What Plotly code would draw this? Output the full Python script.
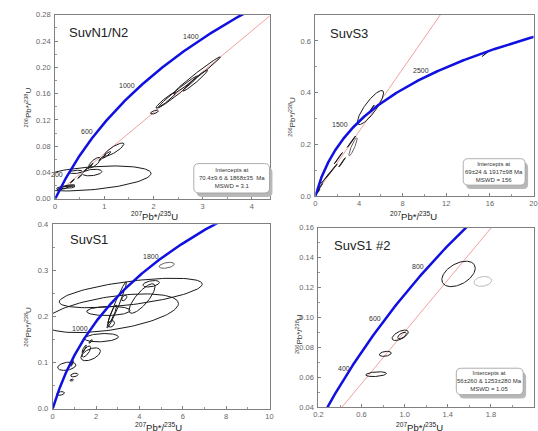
import numpy as np
import plotly.graph_objects as go

W, H = 538, 431

# ---------------- data ----------------
L238 = 1.55125e-10  # decay constants (per year)
L235 = 9.8485e-10

panel_titles = ["SuvN1/N2", "SuvS3", "SuvS1", "SuvS1 #2"]

# intercept ages (Ma) of the discordia lines (None = no line)
intercepts = [(70.4, 1868), (69, 1917), None, (56, 1253)]
box_texts = [
    "Intercepts at<br>70.4±9.6 & 1868±35  Ma<br>MSWD = 3.1",
    "Intercepts at<br>69±24 & 1917±98 Ma<br>MSWD = 156",
    None,
    "Intercepts at<br>56±260 & 1253±280 Ma<br>MSWD = 1.05",
]

# concordia age labels: (text, x, y)
p1_labels = [("1400", 2.76, 0.247), ("1000", 1.46, 0.172), ("600", 0.64, 0.103), ("200", 0.04, 0.037)]
p2_labels = [("2500", 9.68, 0.485), ("1500", 2.28, 0.277)]
p3_labels = [("1800", 4.55, 0.330), ("1000", 1.27, 0.173)]
p4_labels = [("800", 1.123, 0.134), ("600", 0.72, 0.099), ("400", 0.44, 0.066)]

# error ellipses: (x centre, y centre, x half-width, y half-height, rho, shade)
p1_ell = [
    (0.70, 0.031, 1.25, 0.019, 0.40, 0),
    (0.75, 0.040, 0.20, 0.005, 0.30, 0),
    (0.42, 0.041, 0.13, 0.0025, 0.30, 0),
    (0.80, 0.055, 0.12, 0.008, 0.75, 0),
    (1.20, 0.075, 0.20, 0.010, 0.85, 0),
    (1.05, 0.067, 0.08, 0.005, 0.90, 0),
    (2.02, 0.132, 0.08, 0.003, 0.60, 0),
    (2.50, 0.163, 0.40, 0.024, 0.985, 0),
    (2.88, 0.188, 0.48, 0.028, 0.99, 0),
    (2.85, 0.180, 0.25, 0.016, 0.97, 0),
    (2.25, 0.150, 0.20, 0.012, 0.95, 0),
    (0.15, 0.017, 0.12, 0.0025, 0.50, 0),
    (0.25, 0.018, 0.15, 0.002, 0.30, 0),
    (0.10, 0.015, 0.06, 0.002, 0.60, 0),
    (0.30, 0.020, 0.10, 0.0015, 0.50, 0),
    (0.35, 0.027, 0.04, 0.003, 0.95, 0),
    (0.50, 0.034, 0.04, 0.003, 0.95, 0),
    (0.62, 0.044, 0.04, 0.003, 0.95, 0),
    (0.72, 0.050, 0.05, 0.004, 0.95, 0),
    (0.95, 0.062, 0.06, 0.004, 0.95, 0),
]
p2_ell = [
    (5.05, 0.342, 1.20, 0.066, 0.85, 0),
    (3.45, 0.190, 0.38, 0.035, 0.90, 1),
    (3.30, 0.210, 0.38, 0.022, 0.995, 0),
    (2.10, 0.146, 0.38, 0.022, 0.995, 0),
    (1.50, 0.098, 0.50, 0.025, 0.995, 0),
    (0.90, 0.067, 0.38, 0.019, 0.995, 0),
    (0.35, 0.030, 0.30, 0.018, 0.99, 0),
    (2.45, 0.130, 0.30, 0.018, 0.99, 0),
    (15.6, 0.550, 0.30, 0.010, 0.99, 0),
    (5.20, 0.340, 0.20, 0.012, 0.99, 0),
    (0.15, 0.012, 0.10, 0.006, 0.90, 0),
    (0.30, 0.020, 0.12, 0.008, 0.90, 0),
]
p3_ell = [
    (3.60, 0.251, 3.30, 0.032, 0.60, 0),
    (2.70, 0.207, 3.10, 0.042, 0.50, 0),
    (2.57, 0.212, 1.00, 0.010, 0.10, 0),
    (4.12, 0.239, 0.60, 0.032, 0.80, 0),
    (4.54, 0.271, 0.38, 0.007, 0.40, 0),
    (5.26, 0.311, 0.35, 0.0065, 0.40, 1),
    (2.25, 0.154, 0.78, 0.009, 0.20, 0),
    (1.75, 0.118, 0.45, 0.014, 0.50, 0),
    (1.55, 0.124, 0.20, 0.012, 0.70, 0),
    (0.65, 0.092, 0.42, 0.009, 0.30, 0),
    (1.00, 0.073, 0.17, 0.004, 0.30, 0),
    (0.88, 0.062, 0.08, 0.002, 0.30, 0),
    (0.36, 0.033, 0.18, 0.004, 0.30, 0),
    (2.95, 0.225, 0.45, 0.050, 0.97, 0),
    (2.75, 0.205, 0.20, 0.020, 0.90, 0),
    (2.70, 0.184, 0.15, 0.007, 0.30, 0),
    (1.75, 0.146, 0.08, 0.004, 0.80, 0),
    (0.90, 0.098, 0.06, 0.006, 0.90, 0),
    (1.45, 0.130, 0.10, 0.008, 0.90, 0),
    (3.30, 0.240, 0.12, 0.006, 0.50, 0),
]
p4_ell = [
    (1.500, 0.129, 0.155, 0.0085, 0.45, 0),
    (1.725, 0.124, 0.082, 0.0033, 0.20, 2),
    (0.958, 0.088, 0.075, 0.0035, 0.60, 0),
    (0.975, 0.0878, 0.040, 0.0022, 0.60, 0),
    (0.820, 0.0756, 0.055, 0.0017, 0.30, 0),
    (0.735, 0.062, 0.096, 0.0016, 0.30, 0),
]

# axis setup: (xrange, xdtick, xminor, xfmt, yrange, ydtick, yminor, yfmt)
axes_cfg = [
    ([0, 4.36], 1, 0.5, "d", [0, 0.28], 0.04, 0.02, ".2f"),
    ([0, 20], 4, 2, "d", [0, 0.7], 0.2, 0.1, ".1f"),
    ([0, 10], 2, 1, "d", [0, 0.4], 0.1, 0.05, ".1f"),
    ([0.2, 2.2], 0.4, 0.2, ".1f", [0.04, 0.16], 0.02, 0.01, ".2f"),
]

# ---------------- layout geometry (pixels) ----------------
domains_px = [  # (left, right, top, bottom)
    (51, 269, 11, 199),
    (315.7, 537.5, 11.3, 196),
    (48.5, 269, 225, 413.3),
    (318.8, 538, 228.3, 411.7),
]
title_pos = [(63, 29), (329, 30), (64, 241), (333, 247)]
xtitle_pos = [(152, 216.5), (415, 216.5), (156, 432), (422, 432)]
ytitle_pos = [(23, 106), (291, 115), (23, 330), (299, 337)]
box_px = [(192, 163, 269, 193), (466, 158, 529, 185), None, (459, 372, 527, 399)]

FONT = "Arial, Liberation Sans, sans-serif"


def px(x):
    return x / W


def py(y):
    return 1 - y / H


def ellipse(cx, cy, sx, sy, rho):
    t = np.linspace(0, 2 * np.pi, 120)
    x = cx + sx * np.cos(t)
    y = cy + sy * (rho * np.cos(t) + np.sqrt(1 - rho ** 2) * np.sin(t))
    return x, y


def conc(t_ma):
    t = np.asarray(t_ma) * 1e6
    return np.exp(L235 * t) - 1, np.exp(L238 * t) - 1


def rrect(a0, b0, a1, b1, r=5):
    pts = [
        f"M {px(a0 + r)},{py(b0)}", f"L {px(a1 - r)},{py(b0)}",
        f"Q {px(a1)},{py(b0)} {px(a1)},{py(b0 + r)}", f"L {px(a1)},{py(b1 - r)}",
        f"Q {px(a1)},{py(b1)} {px(a1 - r)},{py(b1)}", f"L {px(a0 + r)},{py(b1)}",
        f"Q {px(a0)},{py(b1)} {px(a0)},{py(b1 - r)}", f"L {px(a0)},{py(b0 + r)}",
        f"Q {px(a0)},{py(b0)} {px(a0 + r)},{py(b0)}", "Z",
    ]
    return " ".join(pts)


fig = go.Figure()
annotations = []
shapes = []
ell_sets = [p1_ell, p2_ell, p3_ell, p4_ell]
lab_sets = [p1_labels, p2_labels, p3_labels, p4_labels]
shade_cols = ["#1a1a1a", "#666666", "#bbbbbb"]

for i in range(4):
    xa = "x" if i == 0 else f"x{i+1}"
    ya = "y" if i == 0 else f"y{i+1}"
    # discordia
    if intercepts[i] is not None:
        (x0, x1), (y0, y1) = conc(intercepts[i])
        slope = (y1 - y0) / (x1 - x0)
        xs = np.array([x0, 40.0])
        ys = y0 + slope * (xs - x0)
        fig.add_trace(go.Scatter(x=xs, y=ys, mode="lines", xaxis=xa, yaxis=ya,
                                 line=dict(color="#f2a0a0", width=1), hoverinfo="skip",
                                 showlegend=False))
    # ellipses
    for (cx, cy, sx, sy, rho, sh) in ell_sets[i]:
        ex, ey = ellipse(cx, cy, sx, sy, rho)
        fig.add_trace(go.Scatter(x=ex, y=ey, mode="lines", xaxis=xa, yaxis=ya,
                                 line=dict(color=shade_cols[sh], width=1), hoverinfo="skip",
                                 showlegend=False))
    # concordia
    cx_, cy_ = conc(np.linspace(0, 4200, 600))
    fig.add_trace(go.Scatter(x=cx_, y=cy_, mode="lines", xaxis=xa, yaxis=ya,
                             line=dict(color="#1010e0", width=2.5), hoverinfo="skip",
                             showlegend=False))
    # age labels
    for (txt, lx, ly) in lab_sets[i]:
        annotations.append(dict(x=lx, y=ly, xref=xa, yref=ya, text=txt, showarrow=False,
                                xanchor="center", yanchor="middle",
                                font=dict(family=FONT, size=7, color="#333")))

    l, r, t, b = domains_px[i]
    xr, xdt, xmn, xfmt, yr, ydt, ymn, yfmt = axes_cfg[i]
    common = dict(showline=True, linecolor="#808080", linewidth=1, mirror=True,
                  ticks="inside", ticklen=3, tickcolor="#808080", showgrid=False,
                  zeroline=False, tickfont=dict(family=FONT, size=7.5, color="#666"),
                  minor=dict(ticks="inside", ticklen=2, tickcolor="#999"))
    fig.layout[("xaxis" if i == 0 else f"xaxis{i+1}")] = dict(
        domain=[px(l), px(r)], range=xr, dtick=xdt, tick0=0 if i != 3 else 0.2,
        tickformat=xfmt, anchor=ya, minor_dtick=xmn, **common)
    fig.layout[("yaxis" if i == 0 else f"yaxis{i+1}")] = dict(
        domain=[py(b), py(t)], range=yr, dtick=ydt, tick0=0,
        tickformat=yfmt, anchor=xa, minor_dtick=ymn, ticklabelstandoff=2, **common)

    # panel title
    tx, ty = title_pos[i]
    annotations.append(dict(x=px(tx), y=py(ty), xref="paper", yref="paper", xanchor="left",
                            yanchor="middle", text=panel_titles[i], showarrow=False,
                            font=dict(family=FONT, size=13, color="#222")))
    # axis titles
    ax_, ay_ = xtitle_pos[i]
    annotations.append(dict(x=px(ax_), y=py(ay_), xref="paper", yref="paper",
                            xanchor="center", yanchor="middle",
                            text="<sup>207</sup>Pb*/<sup>235</sup>U", showarrow=False,
                            font=dict(family=FONT, size=9.5, color="#222")))
    bx_, by_ = ytitle_pos[i]
    annotations.append(dict(x=px(bx_), y=py(by_), xref="paper", yref="paper", textangle=-90,
                            xanchor="center", yanchor="middle",
                            text="<sup>206</sup>Pb*/<sup>238</sup>U", showarrow=False,
                            font=dict(family=FONT, size=8, color="#333")))
    # intercept box
    if box_px[i] is not None:
        x0p, y0p, x1p, y1p = box_px[i]
        shapes.append(dict(type="path", xref="paper", yref="paper",
                           path=rrect(x0p + 3, y0p + 4, x1p + 3, y1p + 4),
                           fillcolor="#b8b8b8", line=dict(width=0)))
        shapes.append(dict(type="path", xref="paper", yref="paper",
                           path=rrect(x0p, y0p, x1p, y1p),
                           fillcolor="white", line=dict(color="#999", width=0.8)))
        annotations.append(dict(x=px((x0p + x1p) / 2), y=py((y0p + y1p) / 2), xref="paper",
                                yref="paper", xanchor="center", yanchor="middle",
                                text=box_texts[i], showarrow=False,
                                font=dict(family=FONT, size=6, color="#333"), align="center"))

fig.update_layout(width=W, height=H, margin=dict(l=0, r=0, t=0, b=0),
                  paper_bgcolor="white", plot_bgcolor="white", showlegend=False,
                  annotations=annotations, shapes=shapes)

fig.write_html("out.html", config={"displayModeBar": False},
               post_script="document.body.style.margin='0';document.body.style.padding='0';")
